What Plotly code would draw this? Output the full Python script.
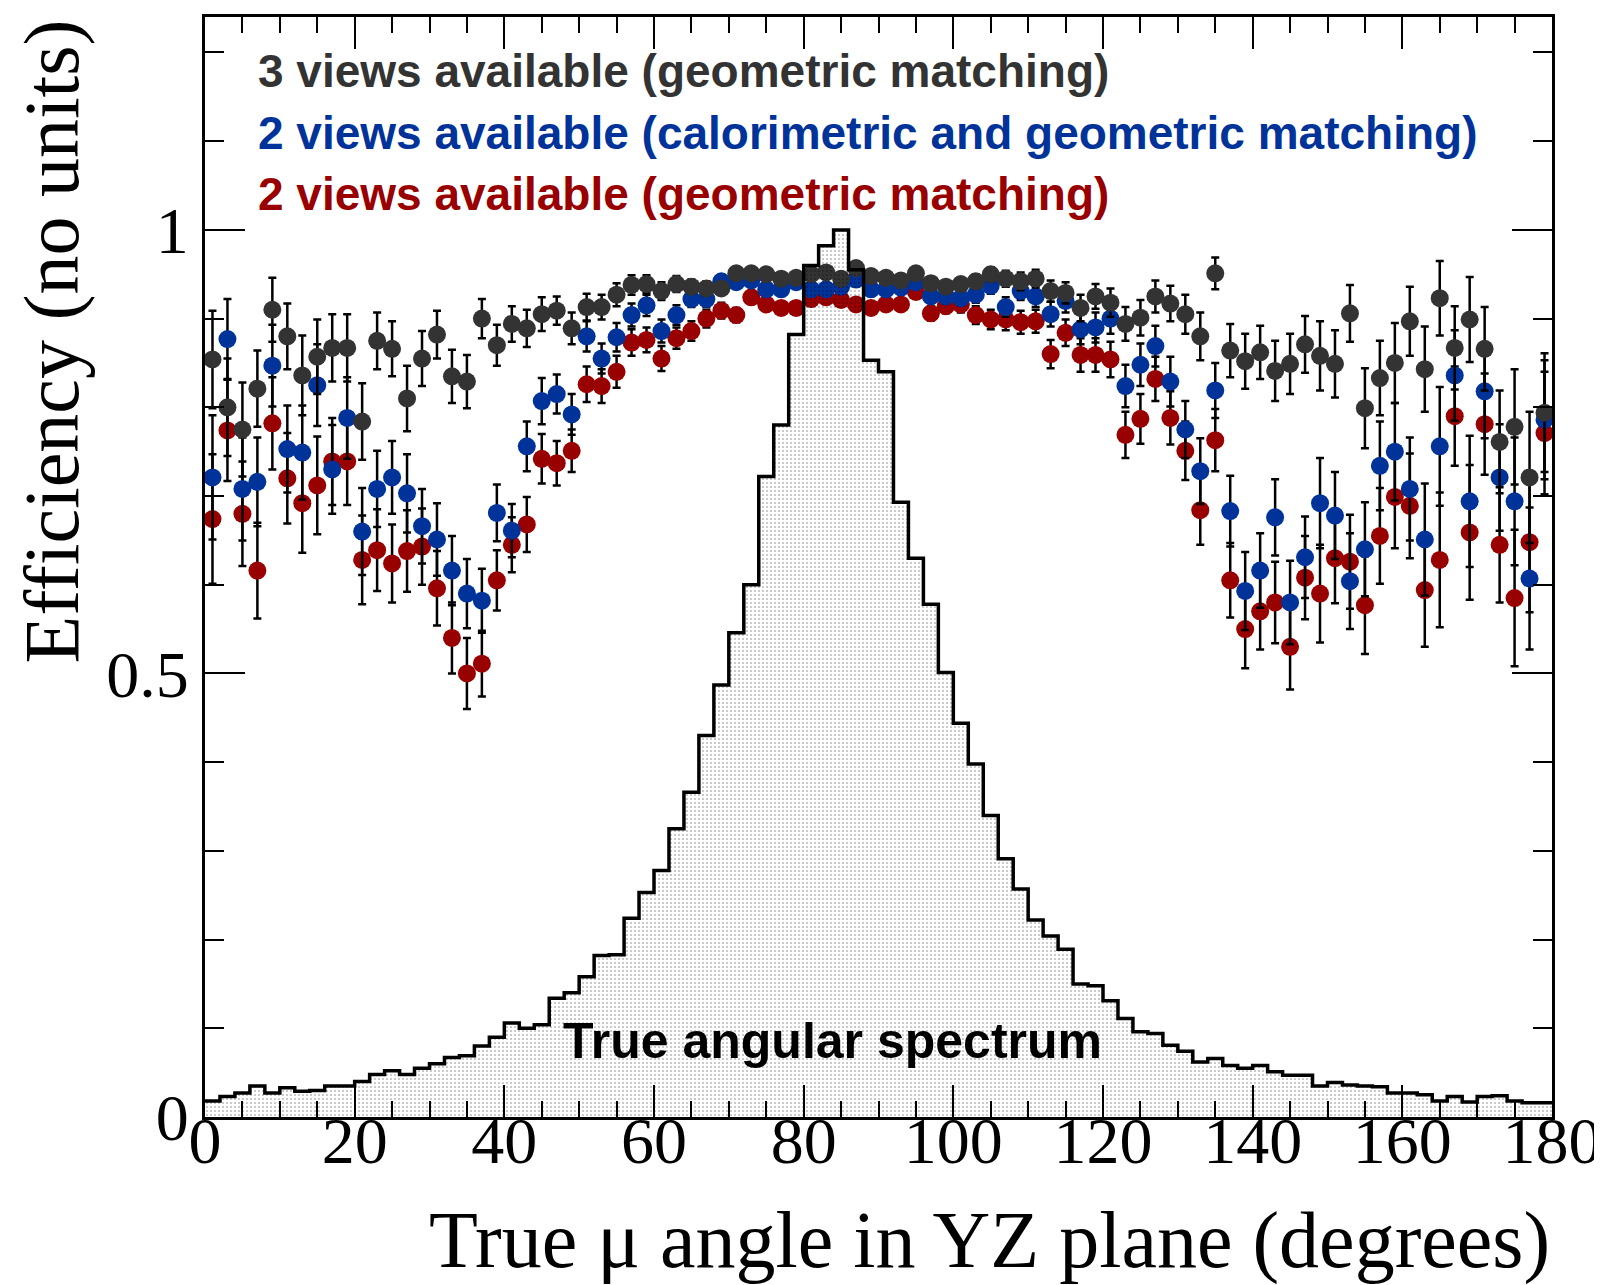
import plotly.graph_objects as go

# ---- data -------------------------------------------------------------
bin_edges = list(range(0, 182, 2))                      # degrees
angle_centers = [e + 1 for e in bin_edges[:-1]]          # 1, 3, ..., 179

true_spectrum = [
    0.018, 0.023, 0.027, 0.035, 0.027, 0.033, 0.029, 0.030, 0.035, 0.035,
    0.040, 0.048, 0.052, 0.048, 0.055, 0.060, 0.067, 0.069, 0.080, 0.090,
    0.106, 0.100, 0.104, 0.134, 0.140, 0.158, 0.182, 0.183, 0.224, 0.253,
    0.278, 0.325, 0.366, 0.430, 0.487, 0.546, 0.600, 0.722, 0.780, 0.882,
    0.960, 0.982, 1.000, 0.955, 0.853, 0.840, 0.693, 0.630, 0.578, 0.501,
    0.444, 0.398, 0.340, 0.291, 0.257, 0.222, 0.204, 0.189, 0.150, 0.148,
    0.131, 0.111, 0.096, 0.094, 0.081, 0.074, 0.062, 0.066, 0.058, 0.055,
    0.058, 0.051, 0.047, 0.047, 0.035, 0.039, 0.036, 0.035, 0.034, 0.027,
    0.027, 0.025, 0.018, 0.023, 0.017, 0.023, 0.024, 0.018, 0.016, 0.016]

eff_3views_geo = [
    .854, .800, .775, .821, .910, .880, .836, .857, .867, .867,
    .784, .875, .866, .810, .855, .882, .835, .829, .900, .870,
    .894, .889, .905, .909, .889, .913, .913, .927, .938, .939,
    .931, .939, .936, .934, .934, .951, .951, .950, .945, .946,
    .950, .952, .945, .957, .948, .946, .943, .951, .940, .936,
    .939, .942, .950, .945, .942, .945, .931, .929, .912, .925,
    .918, .894, .901, .925, .917, .905, .880, .951, .864, .852,
    .862, .841, .849, .871, .858, .849, .906, .799, .833, .850,
    .897, .843, .923, .867, .899, .866, .761, .778, .721, .794]
err_3views_geo = [
    .055, .055, .053, .043, .036, .037, .045, .042, .038, .038,
    .043, .032, .031, .037, .031, .027, .030, .030, .022, .023,
    .020, .021, .019, .016, .018, .015, .014, .013, .011, .010,
    .010, .009, .008, .008, .007, .006, .006, .005, .005, .005,
    .005, .004, .005, .004, .005, .005, .006, .006, .007, .007,
    .007, .008, .008, .009, .010, .010, .012, .012, .015, .014,
    .016, .019, .020, .018, .020, .022, .027, .018, .030, .031,
    .030, .034, .034, .032, .039, .038, .032, .045, .042, .045,
    .039, .048, .042, .047, .048, .047, .058, .065, .074, .067]

eff_2views_calo = [
    .721, .877, .708, .716, .847, .753, .749, .825, .730, .788,
    .660, .708, .721, .703, .666, .651, .616, .590, .582, .681,
    .661, .756, .807, .815, .792, .880, .855, .879, .904, .915,
    .886, .904, .922, .922, .942, .941, .943, .933, .933, .941,
    .933, .933, .936, .944, .933, .933, .935, .941, .925, .925,
    .923, .927, .937, .913, .931, .925, .905, .920, .888, .890,
    .900, .824, .848, .869, .829, .775, .728, .819, .683, .593,
    .616, .676, .580, .631, .692, .678, .604, .640, .734, .750,
    .708, .651, .756, .836, .694, .818, .721, .694, .607, .786]
err_2views_calo = [
    .070, .045, .058, .050, .046, .049, .053, .046, .050, .046,
    .049, .043, .041, .044, .042, .041, .039, .039, .036, .032,
    .030, .028, .026, .022, .023, .017, .017, .016, .013, .012,
    .013, .011, .009, .009, .007, .007, .006, .006, .006, .005,
    .005, .005, .005, .005, .006, .006, .006, .006, .007, .008,
    .008, .009, .009, .011, .010, .012, .014, .013, .017, .017,
    .017, .024, .024, .023, .028, .032, .037, .031, .040, .044,
    .042, .043, .047, .046, .051, .049, .054, .053, .050, .055,
    .058, .063, .067, .051, .074, .053, .060, .072, .080, .067]

eff_2views_geo = [
    .674, .774, .680, .616, .782, .720, .692, .712, .739, .739,
    .628, .639, .624, .638, .643, .596, .540, .500, .511, .605,
    .645, .668, .742, .737, .751, .826, .824, .840, .873, .876,
    .855, .878, .886, .900, .909, .904, .924, .916, .912, .912,
    .922, .924, .921, .916, .912, .916, .916, .930, .906, .914,
    .916, .904, .899, .899, .896, .897, .860, .884, .859, .859,
    .854, .769, .787, .832, .788, .751, .684, .763, .605, .550,
    .570, .580, .530, .608, .590, .630, .626, .577, .655, .699,
    .689, .594, .628, .790, .659, .781, .645, .585, .648, .771]
err_2views_geo = [
    .073, .057, .059, .054, .052, .051, .056, .055, .049, .049,
    .050, .046, .044, .046, .043, .042, .040, .040, .037, .034,
    .031, .031, .028, .025, .024, .020, .019, .018, .015, .014,
    .014, .012, .011, .010, .009, .008, .007, .007, .007, .006,
    .006, .006, .006, .006, .006, .006, .007, .007, .008, .008,
    .009, .010, .011, .012, .013, .013, .016, .015, .019, .019,
    .020, .026, .028, .025, .030, .033, .039, .035, .042, .044,
    .043, .046, .048, .047, .055, .051, .053, .055, .054, .058,
    .059, .064, .076, .056, .076, .057, .065, .077, .079, .069]

labels = [
    "3 views available (geometric matching)",
    "2 views available (calorimetric and geometric matching)",
    "2 views available (geometric matching)",
]
label_y = [1.179, 1.109, 1.041]
colors = ["#333333", "#003399", "#990000"]

# ---- figure -----------------------------------------------------------
fig = go.Figure()

series = [
    (eff_2views_geo, err_2views_geo, colors[2]),
    (eff_2views_calo, err_2views_calo, colors[1]),
    (eff_3views_geo, err_3views_geo, colors[0]),
]
for vals, errs, col in series:
    fig.add_trace(go.Scatter(
        x=angle_centers, y=vals, mode="markers",
        marker=dict(size=18, color=col, line=dict(width=0)),
        error_y=dict(type="data", array=errs, visible=True,
                     color="black", thickness=2.5, width=4),
        hoverinfo="skip",
    ))

fig.add_trace(go.Scatter(
    x=bin_edges, y=true_spectrum + [true_spectrum[-1]],
    mode="lines", line=dict(shape="hv", color="black", width=3.5),
    fill="tozeroy", fillcolor="rgba(0,0,0,0)",
    fillpattern=dict(shape=".", fgcolor="black", bgcolor="rgba(0,0,0,0)",
                     size=4, solidity=0.12),
    hoverinfo="skip",
))

serif = "Liberation Serif"
sans = "Liberation Sans"

axis_common = dict(
    ticks="inside", tickcolor="black", tickwidth=2,
    showline=True, linecolor="black", linewidth=3, mirror="ticks",
    showgrid=False, zeroline=False,
    tickfont=dict(family=serif, size=66, color="black"),
)

fig.update_layout(
    width=1602, height=1285,
    margin=dict(l=197, r=58, t=6, b=176),
    paper_bgcolor="white", plot_bgcolor="white",
    showlegend=False,
    xaxis=dict(range=[0, 180], tick0=0, dtick=20, ticklen=32,
               ticklabelstandoff=-36,
               minor=dict(dtick=5, ticks="inside", ticklen=16, tickwidth=2,
                          tickcolor="black", showgrid=False),
               **axis_common),
    yaxis=dict(range=[0, 1.24], tick0=0, dtick=0.5, ticklen=40,
               minor=dict(dtick=0.1, ticks="inside", ticklen=19, tickwidth=2,
                          tickcolor="black", showgrid=False),
               **axis_common),
)

annotations = []
for txt, col, yy in zip(labels, colors, label_y):
    annotations.append(dict(
        x=6.75, y=yy, xref="x", yref="y",
        text=txt, showarrow=False, xanchor="left", yanchor="middle",
        font=dict(family=sans, size=46, color=col, weight="bold"),
    ))
annotations.append(dict(
    x=47.6, y=0.086, xref="x", yref="y", text="True angular spectrum",
    showarrow=False, xanchor="left", yanchor="middle",
    font=dict(family=sans, size=50, color="black", weight="bold"),
))
annotations.append(dict(
    x=1.0, y=-0.112, xref="paper", yref="paper",
    text="True \u03bc angle in YZ plane (degrees)", showarrow=False,
    xanchor="right", yanchor="middle",
    font=dict(family=serif, size=80, color="black"),
))
annotations.append(dict(
    x=-0.114, y=1.0, xref="paper", yref="paper",
    text="Efficiency (no units)", showarrow=False, textangle=-90,
    xanchor="center", yanchor="top",
    font=dict(family=serif, size=78, color="black"),
))
fig.update_layout(annotations=annotations)

fig.write_html("out.html")
